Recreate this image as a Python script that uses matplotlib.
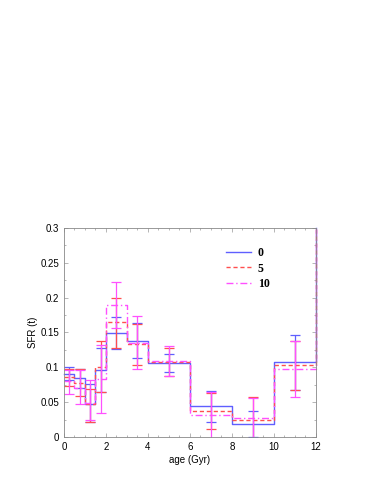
import numpy as np
import matplotlib
matplotlib.use("Agg")
import matplotlib.pyplot as plt
from matplotlib.ticker import MultipleLocator

# bin edges in age (Gyr); the bin past 12 is off the top of the plot
edges = [0, 0.5, 1, 1.5, 2, 3, 4, 6, 8, 10, 12, 12]
centers = [0.25, 0.75, 1.25, 1.75, 2.5, 3.5, 5, 7, 9, 11]

sfr_0 = [0.091, 0.084, 0.048, 0.096, 0.149, 0.138, 0.106, 0.044, 0.018, 0.107, 0.30]
sfr_5 = [0.086, 0.078, 0.047, 0.101, 0.165, 0.133, 0.107, 0.037, 0.024, 0.103, 0.30]
sfr_10 = [0.080, 0.071, 0.049, 0.083, 0.189, 0.135, 0.109, 0.031, 0.027, 0.098, 0.30]

lo_0 = [0.082, 0.070, 0.021, 0.065, 0.126, 0.113, 0.093, 0.022, 0.000, 0.067]
hi_0 = [0.100, 0.098, 0.076, 0.128, 0.172, 0.164, 0.119, 0.066, 0.038, 0.146]
lo_5 = [0.073, 0.059, 0.022, 0.065, 0.128, 0.104, 0.088, 0.011, -0.010, 0.067]
hi_5 = [0.097, 0.097, 0.069, 0.138, 0.200, 0.162, 0.128, 0.063, 0.058, 0.138]
lo_10 = [0.062, 0.048, 0.024, 0.034, 0.156, 0.098, 0.087, -0.003, -0.004, 0.057]
hi_10 = [0.096, 0.096, 0.082, 0.132, 0.222, 0.174, 0.131, 0.065, 0.056, 0.138]

c0 = "#5f5fff"
c5 = "#ff4f4f"
c10 = "#ff50ff"

plt.rcParams['font.family'] = ['Liberation Sans', 'DejaVu Sans']
fig = plt.figure(figsize=(3.82, 4.94), dpi=100)
ax = fig.add_axes([0.1675, 0.1154, 0.6597, 0.4231])

series = [
    (sfr_0, lo_0, hi_0, c0, "-", "0"),
    (sfr_5, lo_5, hi_5, c5, (0, (3, 2)), "5"),
    (sfr_10, lo_10, hi_10, c10, (0, (5, 2, 1, 2)), "10"),
]
for vals, lo, hi, col, ls, lab in series:
    v = np.array(vals)
    ax.step(edges, np.append(v, v[-1]), where="post", color=col,
            linestyle=ls, lw=1.0, label=lab, clip_on=False)
    mid = v[:len(centers)]
    yerr = [mid - np.array(lo), np.array(hi) - mid]
    ax.errorbar(centers, mid, yerr=yerr, fmt="none", ecolor=col,
                elinewidth=0.9, capsize=3.5, capthick=0.9)

ax.set_xlim(0, 12)
ax.set_ylim(0, 0.3)
ax.xaxis.set_major_locator(MultipleLocator(2))
ax.xaxis.set_minor_locator(MultipleLocator(0.5))
ax.yaxis.set_minor_locator(MultipleLocator(0.025))
ax.set_yticks([0, 0.05, 0.1, 0.15, 0.2, 0.25, 0.3])
ax.set_yticklabels(["0", "0.05", "0.1", "0.15", "0.2", "0.25", "0.3"])
ax.tick_params(which="both", direction="in", top=True, right=True,
               labelsize=7, width=0.5, color="#999999")
ax.tick_params(which="major", length=3)
ax.tick_params(which="minor", length=1.5)
for s in ax.spines.values():
    s.set_linewidth(0.6)
    s.set_color("#888888")

ax.set_xlabel("age (Gyr)", fontsize=7, labelpad=2)
ax.set_ylabel("SFR (t)", fontsize=7, labelpad=2)

leg = ax.legend(loc="upper left", bbox_to_anchor=(0.6, 0.96), frameon=False,
                handlelength=2.1, labelspacing=0.3, handletextpad=0.6,
                prop={"family": "Liberation Serif", "weight": "bold", "size": 8.5})

fig.savefig("out.png", dpi=100)
